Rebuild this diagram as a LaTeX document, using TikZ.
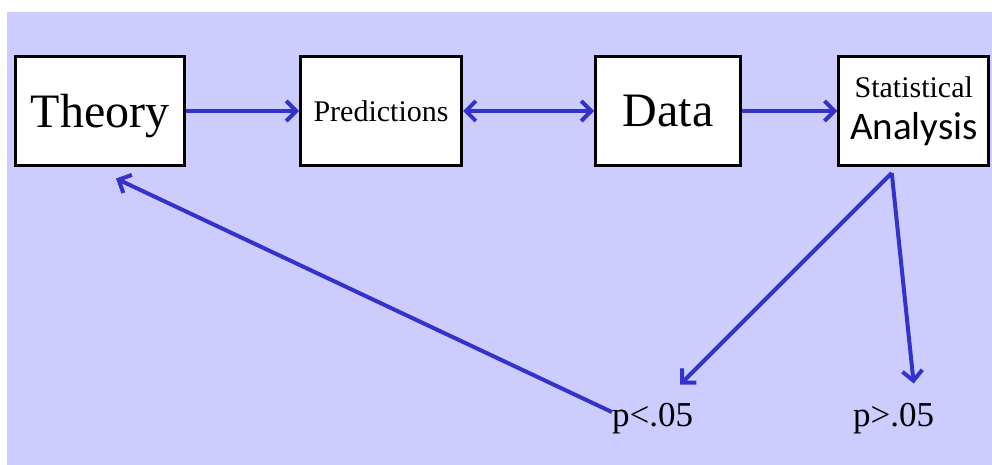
\documentclass[tikz,border=0pt]{standalone}
\usepackage{fontspec}
\setmainfont{Liberation Serif}
\newfontfamily\calib{Carlito}
\usepackage{tikz}
\usetikzlibrary{arrows.meta}
\definecolor{lavender}{HTML}{CCCCFF}
\definecolor{arrowblue}{HTML}{3333CC}

\begin{document}
\begin{tikzpicture}[x=1pt,y=-1pt,
  box/.style={draw=black,line width=3pt,fill=white,inner sep=0pt,minimum height=109pt},
  link/.style={arrowblue,line width=4pt,-{Straight Barb[length=10pt,width=20pt]}},
  result/.style={inner sep=0pt,anchor=base west,font=\fontsize{35}{40}\selectfont}]
\useasboundingbox (0,0) rectangle (992,465);
\fill[lavender] (7,12) rectangle (992,465);
\node[box,minimum width=169pt,text depth=0pt,font=\fontsize{48}{50}\selectfont] (theory) at (100,111) {Theory};
\node[box,minimum width=161pt,font=\fontsize{30}{32}\selectfont] (pred) at (381,111) {Predictions};
\node[box,minimum width=145pt,font=\fontsize{48}{50}\selectfont] (data) at (668,111) {Data};
\node[box,minimum width=150pt,align=center,font=\fontsize{30}{42}\selectfont] (stat) at (913.75,111) {Statistical\\{\calib\fontsize{39}{42}\selectfont Analysis}};
\node[result] (plt) at (612,426) {p<.05};
\node[result] (pgt) at (853,426) {p>.05};
\coordinate (fork) at ([xshift=-22pt,yshift=-6pt]stat.south);
\draw[link] (theory) -- (pred);
\draw[link,{Straight Barb[length=10pt,width=20pt]}-{Straight Barb[length=10pt,width=20pt]}] (pred) -- (data);
\draw[link] (data) -- (stat);
\draw[link] (fork) -- ([xshift=27.5pt,yshift=18pt]plt.north);
\draw[link] (fork) -- ([xshift=20pt,yshift=19pt]pgt.north);
\draw[link] ([yshift=6pt]plt.west) -- ([xshift=16pt,yshift=-11.5pt]theory.south);
\end{tikzpicture}
\end{document}
